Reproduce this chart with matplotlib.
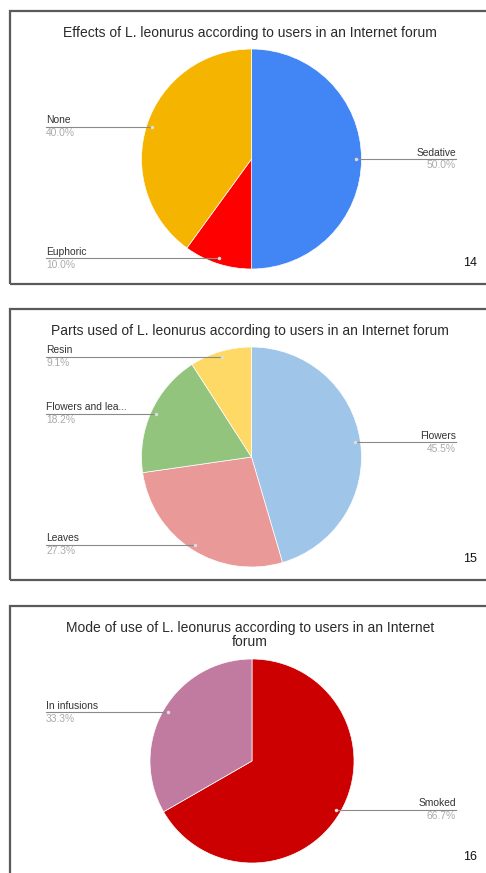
import numpy as np
import matplotlib.pyplot as plt
from matplotlib.patches import Rectangle

plt.rcParams['font.family'] = ['Liberation Sans', 'DejaVu Sans']

W, H = 486, 873

# chart 14
effects_labels = ['Sedative', 'Euphoric', 'None']
effects_values = [50.0, 10.0, 40.0]
effects_colors = ['#4285f4', '#ff0000', '#f4b400']

# chart 15
parts_labels = ['Flowers', 'Leaves', 'Flowers and lea...', 'Resin']
parts_values = [45.5, 27.3, 18.2, 9.1]
parts_colors = ['#9fc5e8', '#ea9999', '#93c47d', '#ffd966']

# chart 16
mode_labels = ['Smoked', 'In infusions']
mode_values = [66.7, 33.3]
mode_colors = ['#cc0000', '#c27ba0']

titles = ['Effects of L. leonurus according to users in an Internet forum',
          'Parts used of L. leonurus according to users in an Internet forum',
          'Mode of use of L. leonurus according to users in an Internet\nforum']
numbers = ['14', '15', '16']

fig = plt.figure(figsize=(W / 100, H / 100), dpi=100)
ax = fig.add_axes([0, 0, 1, 1])


def Y(y):
    # pixel row (from top) -> data y
    return H - y


panels = [
    # values, labels, colors, centre, radius, box top, box bottom, title y, number y
    (effects_values, effects_labels, effects_colors, (251.5, 159), 110, 11, 284, 33, 263),
    (parts_values, parts_labels, parts_colors, (251.5, 457), 110, 309, 580, 331, 559),
    (mode_values, mode_labels, mode_colors, (252, 761), 102, 606, 900, 635, 857),
]

for i, (vals, labs, cols, (cx, cy), r, top, bot, ty, ny) in enumerate(panels):
    ax.add_patch(Rectangle((10, Y(bot)), 500, bot - top, fill=False,
                           edgecolor='#5a5a5a', linewidth=1.6, clip_on=False))
    wedges, _ = ax.pie(vals, colors=cols, startangle=90, counterclock=False,
                       center=(cx, Y(cy)), radius=r,
                       wedgeprops=dict(edgecolor='white', linewidth=0.5))
    ax.text(250, Y(ty), titles[i], ha='center', va='center', fontsize=10,
            color='#2a2a2a', linespacing=0.95)
    ax.text(477, Y(ny), numbers[i], ha='right', va='center', fontsize=9, color='#111111')

    for w, lab, v in zip(wedges, labs, vals):
        mid = np.deg2rad((w.theta1 + w.theta2) / 2)
        px = cx + 0.95 * r * np.cos(mid)
        py = Y(cy) + 0.95 * r * np.sin(mid)
        if np.cos(mid) > 0:
            x0, x1, tx, ha = px, 456, 456, 'right'
        else:
            x0, x1, tx, ha = 46, px, 46, 'left'
        ax.plot([x0, x1], [py, py], color='#8a8a8a', linewidth=0.8)
        ax.plot([px], [py], marker='o', markersize=1.5, color='#dddddd')
        ax.text(tx, py + 1.5, lab, ha=ha, va='bottom', fontsize=7.4, color='#333333')
        ax.text(tx, py - 1.5, f'{v:.1f}%', ha=ha, va='top', fontsize=7.4, color='#aaaaaa')

ax.set_xlim(0, W)
ax.set_ylim(0, H)
ax.set_aspect('auto')
ax.axis('off')

fig.savefig('out.png', dpi=100, facecolor='white')
